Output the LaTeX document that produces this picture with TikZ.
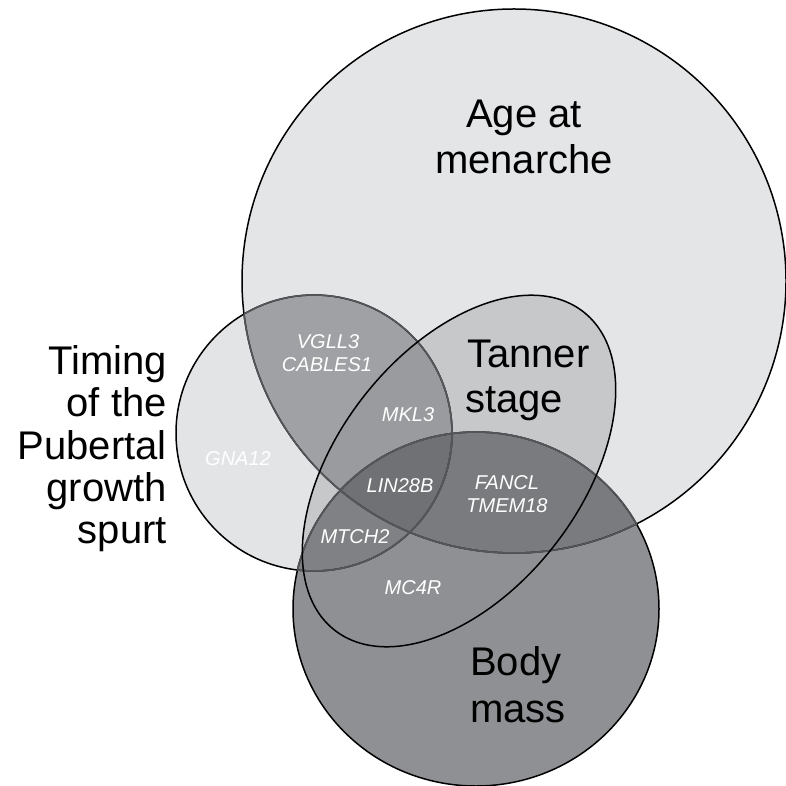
\documentclass[tikz,border=0pt]{standalone}
\usepackage{fontspec}
\setmainfont{Liberation Sans}
\definecolor{cAge}{HTML}{E4E5E7}
\definecolor{cTim}{HTML}{E3E4E6}
\definecolor{cAT}{HTML}{A0A1A4}
\definecolor{cTan}{HTML}{C7C8CA}
\definecolor{cATT}{HTML}{9A9B9E}
\definecolor{cB}{HTML}{8F9093}
\definecolor{cBA}{HTML}{7A7B7E}
\definecolor{cBT}{HTML}{808184}
\definecolor{cBAT}{HTML}{707174}
\definecolor{cLine}{HTML}{55565A}
\begin{document}
\begin{tikzpicture}[x=1pt,y=1pt,
  ol/.style={draw=black,line width=1.5pt},
  olg/.style={draw=cLine,line width=1.5pt},
  tanrot/.style={rotate around={52:(459,314)}},
  big/.style={inner sep=0pt,font=\fontsize{40}{46}\selectfont,text=black},
  gene/.style={inner sep=0pt,font=\fontsize{20}{24}\selectfont\itshape,text=white}]
\useasboundingbox (0,0) rectangle (786,785);
\def\pAge{(514,504) circle (272)}
\def\pTim{(314,352) circle (138)}
\def\pBody{(476,176) ellipse (183 and 177)}
\def\pTan{(459,314) ellipse (202 and 121)}
% fills
\fill[cAge] \pAge;
\fill[cTim] \pTim;
\begin{scope}\clip \pAge; \fill[cAT] \pTim;\end{scope}
\fill[cTan,tanrot] \pTan;
\begin{scope}\clip \pAge; \clip \pTim; \fill[cATT,tanrot] \pTan;\end{scope}
\fill[cB] \pBody;
\begin{scope}\clip \pBody; \fill[cBA] \pAge;\end{scope}
\begin{scope}\clip \pBody; \fill[cBT] \pTim;\end{scope}
\begin{scope}\clip \pBody; \clip \pAge; \fill[cBAT] \pTim;\end{scope}
% outlines
\draw[ol] \pAge;
\draw[ol] \pTim;
\draw[ol] \pBody;
\begin{scope}\clip \pTim; \draw[olg] \pAge; \draw[olg] \pBody;\end{scope}
\begin{scope}\clip \pAge; \draw[olg] \pTim; \draw[olg] \pBody;\end{scope}
\begin{scope}\clip \pBody; \draw[olg] \pAge; \draw[olg] \pTim;\end{scope}
\begin{scope}\clip[tanrot] \pTan; \draw[olg] \pAge; \draw[olg] \pTim; \draw[olg] \pBody;\end{scope}
\draw[ol,tanrot] \pTan;
% big labels
\node[big,anchor=base] (age1) at (524,657) {Age at};
\node[big,anchor=base] (age2) at (524,611) {menarche};
\node[big,anchor=base west] (tan1) at (467,417) {Tanner};
\node[big,anchor=base west] (tan2) at (465,373) {stage};
\node[big,anchor=base west] (body1) at (470,110) {Body};
\node[big,anchor=base west] (body2) at (470,63) {mass};
\node[big,anchor=base east] (tim1) at (167,410) {Timing};
\node[big,anchor=base east] (tim2) at (167,368) {of the};
\node[big,anchor=base east] (tim3) at (167,326) {Pubertal};
\node[big,anchor=base east] (tim4) at (167,284) {growth};
\node[big,anchor=base east] (tim5) at (167,242) {spurt};
% gene labels
\node[gene,anchor=base] (g1) at (328,436) {VGLL3};
\node[gene,anchor=base] (g2) at (327,413) {CABLES1};
\node[gene,anchor=base] (g3) at (408,363) {MKL3};
\node[gene,anchor=base] (g4) at (238,320) {GNA12};
\node[gene,anchor=base] (g5) at (400,293) {LIN28B};
\node[gene,anchor=base] (g6) at (355,242) {MTCH2};
\node[gene,anchor=base] (g7) at (507,296) {FANCL};
\node[gene,anchor=base] (g8) at (507,273) {TMEM18};
\node[gene,anchor=base] (g9) at (413,191) {MC4R};
\end{tikzpicture}
\end{document}
